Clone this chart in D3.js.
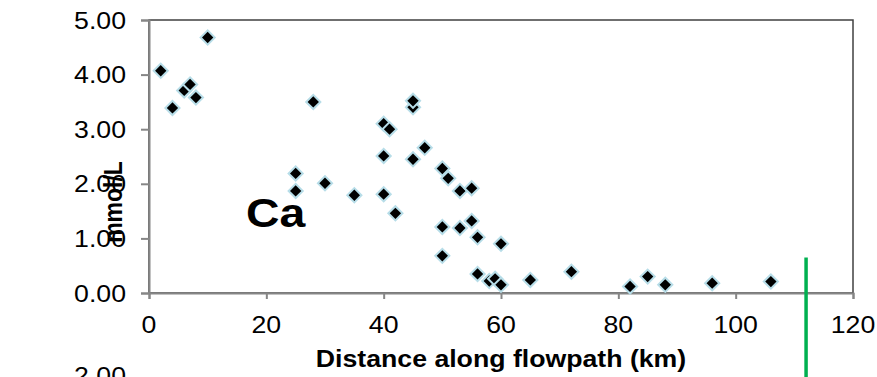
<!DOCTYPE html>
<html>
<head>
<meta charset="utf-8">
<script src="https://cdn.jsdelivr.net/npm/d3@7"></script>
<style>
  body { margin: 0; background: #fff; }
  text { font-family: "Liberation Sans", Arial, sans-serif; }
</style>
</head>
<body>
<div id="chart"></div>
<script>
// distance along flowpath (km) and Ca (mmol/L)
const distance = [2, 4, 6, 7, 8, 10, 25, 25, 28, 30, 35, 40, 40, 40, 41, 42, 45, 45, 45,
    47, 50, 50, 50, 51, 53, 53, 55, 55, 56, 56, 58, 59, 60, 60, 65, 72, 82, 85, 88, 96, 106];
const calcium = [4.07, 3.39, 3.71, 3.82, 3.58, 4.68, 2.19, 1.87, 3.50, 2.01, 1.79, 3.10, 2.51, 1.81, 3.00, 1.46, 3.40, 3.52, 2.45,
    2.66, 2.28, 1.21, 0.68, 2.10, 1.87, 1.19, 1.92, 1.32, 1.02, 0.35, 0.22, 0.26, 0.90, 0.15, 0.24, 0.39, 0.12, 0.30, 0.15, 0.18, 0.21];

const xTicks = [0, 20, 40, 60, 80, 100, 120];
const yTicks = [0, 1, 2, 3, 4, 5];
const markerDistance = 112;

const width = 877, height = 377;
const margin = { left: 149, right: 24, top: 20, bottom: 84 };
const stretch = 1.16;

const svg = d3.select("#chart").append("svg")
    .attr("width", width)
    .attr("height", height)
    .attr("viewBox", [0, 0, width, height]);

const x = d3.scaleLinear([0, 120], [margin.left, width - margin.right]);
const y = d3.scaleLinear([0, 5], [height - margin.bottom, margin.top]);

// plot area border (top/right are darker)
svg.append("rect")
    .attr("x", x(0)).attr("y", y(5))
    .attr("width", x(120) - x(0)).attr("height", y(0) - y(5))
    .attr("fill", "none")
    .attr("stroke", "#404040")
    .attr("stroke-width", 1.5);

const yAxis = svg.append("g")
    .attr("transform", `translate(${x(0)},0)`)
    .call(d3.axisLeft(y).tickValues(yTicks).tickSize(8).tickFormat(""));
const xAxis = svg.append("g")
    .attr("transform", `translate(0,${y(0)})`)
    .call(d3.axisBottom(x).tickValues(xTicks).tickSize(6).tickFormat(""));

[yAxis, xAxis].forEach(g => {
    g.select(".domain").attr("stroke", "#868686").attr("stroke-width", 2);
    g.selectAll(".tick line").attr("stroke", "#868686").attr("stroke-width", 2);
});

// tick labels, stretched a bit like the source
svg.append("g").selectAll("text")
    .data(yTicks)
    .join("text")
    .attr("transform", d => `translate(126,${y(d) + 8.5}) scale(${stretch},1)`)
    .attr("text-anchor", "end")
    .attr("font-size", 23)
    .attr("fill", "#000")
    .text(d => d.toFixed(2));

svg.append("g").selectAll("text")
    .data(xTicks)
    .join("text")
    .attr("transform", d => `translate(${x(d)},333) scale(${stretch},1)`)
    .attr("text-anchor", "middle")
    .attr("font-size", 23)
    .attr("fill", "#000")
    .text(d => d);

// next chart's top label peeking in
svg.append("text")
    .attr("transform", `translate(126,384) scale(${stretch},1)`)
    .attr("text-anchor", "end")
    .attr("font-size", 23)
    .text("2.00");

svg.append("text")
    .attr("transform", `translate(${x(60)},367) scale(${stretch},1)`)
    .attr("text-anchor", "middle")
    .attr("font-size", 23)
    .attr("font-weight", "bold")
    .text("Distance along flowpath (km)");

svg.append("text")
    .attr("transform", `translate(122,202) scale(${stretch},1) rotate(-90)`)
    .attr("text-anchor", "middle")
    .attr("font-size", 23)
    .attr("font-weight", "bold")
    .text("mmol/L");

svg.append("text")
    .attr("transform", `translate(246,227) scale(${stretch},1)`)
    .attr("font-size", 40)
    .attr("font-weight", "bold")
    .text("Ca");

// green marker line
svg.append("line")
    .attr("x1", x(markerDistance)).attr("x2", x(markerDistance))
    .attr("y1", y(0.65)).attr("y2", height)
    .attr("stroke", "#00b050")
    .attr("stroke-width", 3.5);

const points = distance.map((d, i) => ({ d: d, v: calcium[i] }));

svg.append("g").selectAll("path")
    .data(points)
    .join("path")
    .attr("d", d3.symbol(d3.symbolSquare, 100))
    .attr("transform", p => `translate(${x(p.d)},${y(p.v)}) rotate(45)`)
    .attr("fill", "#000")
    .attr("stroke", "#b7dde8")
    .attr("stroke-width", 2);
</script>
</body>
</html>
